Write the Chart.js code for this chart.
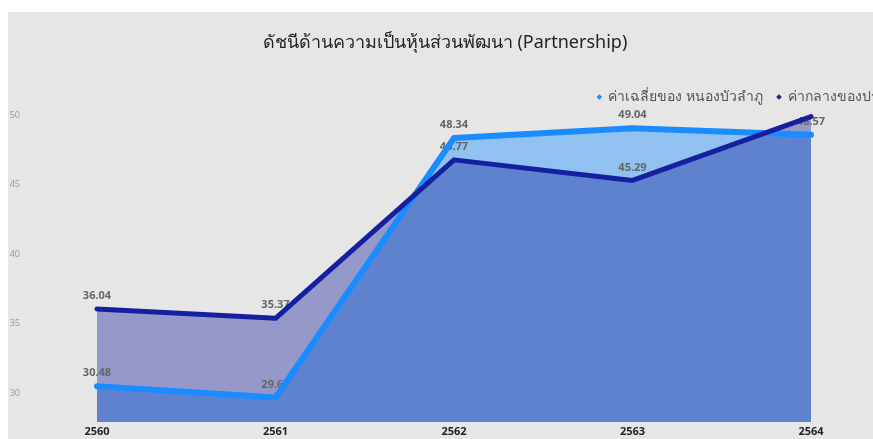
<!DOCTYPE html>
<html lang="th">
<head>
    <meta charset="UTF-8">
    <title>Partnership</title>
    <script src="https://cdn.jsdelivr.net/npm/chart.js"></script>
    <style>
        html, body { margin: 0; padding: 0; background: #ffffff; overflow: hidden; width: 873px; height: 439px; }
        #wrap { position: absolute; left: 8px; top: 12px; width: 865px; height: 427px; background: #e6e6e6; overflow: hidden; }
        #chart { position: absolute; left: -42px; top: 0; }
    </style>
</head>
<body>
    <div id="wrap"><canvas id="chart" width="958" height="427"></canvas></div>

    <script>
        // values
        const years = [2560, 2561, 2562, 2563, 2564];
        const nongbualamphu = [30.48, 29.67, 48.34, 49.04, 48.57];
        const national = [36.04, 35.37, 46.77, 45.29, 49.88];
        const seriesNames = ["ค่าเฉลี่ยของ หนองบัวลำภู", "ค่ากลางของประเทศ"];

        const thaiFont = "'Noto Sans', 'Open Sans', 'DejaVu Sans', sans-serif";

        function toPoints(values) {
            return values.map((v, i) => ({ x: years[i], y: v }));
        }

        // value labels above each point, drawn under the lines
        const valueLabels = {
            id: "valueLabels",
            beforeDatasetsDraw(chart) {
                const ctx = chart.ctx;
                const area = chart.chartArea;
                ctx.save();
                ctx.font = "bold 11px 'Open Sans', sans-serif";
                ctx.fillStyle = "#666666";
                ctx.textAlign = "center";
                ctx.textBaseline = "middle";
                chart.data.datasets.forEach((ds, di) => {
                    chart.getDatasetMeta(di).data.forEach((pt, i) => {
                        const y = pt.y - 13;
                        if (y < area.top) return;
                        ctx.fillText(ds.data[i].y.toFixed(2), pt.x, y);
                    });
                });
                ctx.restore();
            }
        };

        new Chart(document.getElementById("chart"), {
            type: "line",
            data: {
                datasets: [
                    {
                        label: seriesNames[1],
                        data: toPoints(national),
                        borderColor: "#1520a0",
                        backgroundColor: "rgba(21, 32, 154, 0.39)",
                        pointBackgroundColor: "#1520a0",
                        pointBorderWidth: 0,
                        borderWidth: 5,
                        fill: "start"
                    },
                    {
                        label: seriesNames[0],
                        data: toPoints(nongbualamphu),
                        borderColor: "#1a8cff",
                        backgroundColor: "rgba(30, 144, 255, 0.43)",
                        pointBackgroundColor: "#1a8cff",
                        pointBorderWidth: 0,
                        borderWidth: 6,
                        fill: "start"
                    }
                ]
            },
            options: {
                responsive: false,
                animation: false,
                layout: { padding: 0 },
                elements: {
                    point: { radius: 0, hoverRadius: 0 },
                    line: { tension: 0, borderCapStyle: "round", borderJoinStyle: "round" }
                },
                plugins: {
                    filler: { drawTime: "beforeDatasetsDraw" },
                    tooltip: { enabled: false },
                    title: {
                        display: true,
                        text: "ดัชนีด้านความเป็นหุ้นส่วนพัฒนา (Partnership)",
                        color: "#252423",
                        font: { family: thaiFont, size: 18, weight: "normal" },
                        padding: { top: 20, bottom: 22.4 }
                    },
                    legend: {
                        reverse: true,
                        align: "end",
                        labels: {
                            usePointStyle: true,
                            pointStyle: "rectRot",
                            boxWidth: 4,
                            boxHeight: 4,
                            padding: 14,
                            color: "#555555",
                            font: { family: thaiFont, size: 14 }
                        }
                    }
                },
                scales: {
                    x: {
                        type: "linear",
                        min: 2559.6246,
                        max: 2564.633,
                        grid: { display: false, drawTicks: false },
                        border: { display: false },
                        ticks: {
                            stepSize: 1,
                            includeBounds: false,
                            padding: 3,
                            color: "#252423",
                            font: { family: "'Open Sans', sans-serif", size: 11, weight: "bold" },
                            callback: v => String(v)
                        },
                        afterFit: s => { s.height = 17; }
                    },
                    y: {
                        min: 27.91,
                        max: 50.07,
                        grid: {
                            color: "#d2d2d2",
                            drawTicks: false
                        },
                        border: { display: false, dash: [1, 3] },
                        ticks: {
                            stepSize: 5,
                            includeBounds: false,
                            padding: 10,
                            color: "#999999",
                            font: { family: "'Open Sans', sans-serif", size: 9 }
                        },
                        afterFit: s => { s.width = 64; }
                    }
                }
            },
            plugins: [valueLabels]
        });
    </script>
</body>
</html>
